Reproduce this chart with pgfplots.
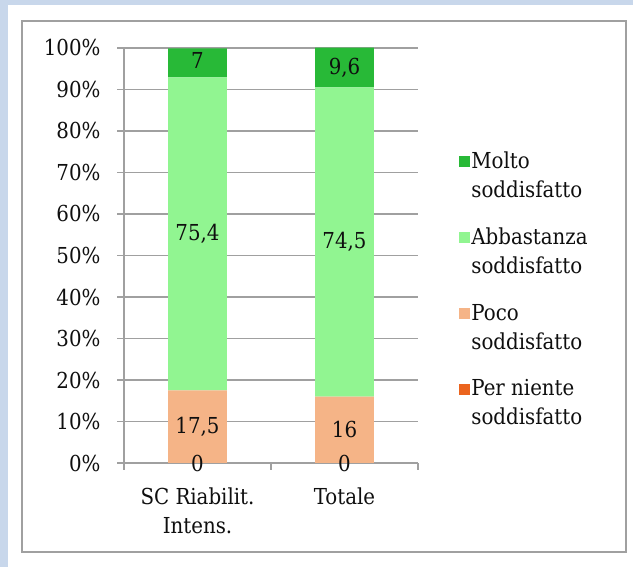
\documentclass[border=0pt]{standalone}
\usepackage{pgfplots}
\pgfplotsset{compat=1.18}
\usepackage{fontspec}
\setmainfont{DejaVu Serif Condensed}
\definecolor{molto}{RGB}{40,185,55}
\definecolor{abba}{RGB}{145,245,145}
\definecolor{poco}{RGB}{245,180,135}
\definecolor{perniente}{RGB}{235,100,30}
\definecolor{gridc}{RGB}{160,160,160}
\definecolor{bgblue}{RGB}{200,215,235}
\definecolor{txt}{RGB}{15,15,15}
\newcommand\fs{\fontsize{22bp}{29bp}\selectfont}
\begin{document}
\begin{tikzpicture}[x=1bp,y=1bp]
\useasboundingbox (0,0) rectangle (633,567);
\fill[bgblue] (0,0) rectangle (633,567);
\fill[white] (8,0) rectangle (633,562);
\draw[gridc, line width=1.5bp] (22,15) rectangle (626,546);
\begin{axis}[
  at={(124bp,104bp)}, anchor=south west, scale only axis,
  width=294bp, height=415bp,
  ybar stacked, bar width=0.4,
  xmin=-0.5, xmax=1.5, ymin=0, ymax=100,
  axis x line=bottom, axis y line=left,
  axis line style={-, draw=gridc, line width=1.2bp},
  tick align=outside, major tick length=7bp,
  tick style={draw=gridc, line width=1.2bp},
  xtick={-0.5,0.5,1.5}, xticklabels={},
  extra x ticks={0,1},
  extra x tick labels={{SC Riabilit.\\Intens.},{Totale}},
  extra x tick style={major tick length=0pt, tick style={draw=none}},
  x tick label style={align=center, font=\fs, text=txt, yshift=-21bp},
  ytick={0,10,...,100},
  yticklabels={0\%,10\%,20\%,30\%,40\%,50\%,60\%,70\%,80\%,90\%,100\%},
  y tick label style={font=\fs, text=txt, xshift=-13bp},
  ymajorgrids, grid style={draw=gridc, line width=1.2bp},
  legend style={at={(1.13,0.758)}, anchor=north west, draw=none, fill=none,
    font=\fs, text=txt, row sep=27bp, nodes={align=left, inner sep=1bp},
    /tikz/every even column/.append style={column sep=9bp}},
  legend cell align=left,
  reverse legend,
  legend image code/.code={\fill[#1] (0bp,8bp) rectangle (11bp,19bp);},
]
\addplot[fill=perniente, draw=none] coordinates {(0,0) (1,0)};
\addlegendentry{Per niente\\soddisfatto}
\addplot[fill=poco, draw=none] coordinates {(0,17.5) (1,16)};
\addlegendentry{Poco\\soddisfatto}
\addplot[fill=abba, draw=none] coordinates {(0,75.4) (1,74.5)};
\addlegendentry{Abbastanza\\soddisfatto}
\addplot[fill=molto, draw=none] coordinates {(0,7) (1,9.6)};
\addlegendentry{Molto\\soddisfatto}
\end{axis}
\begin{axis}[
  at={(124bp,104bp)}, anchor=south west, scale only axis,
  width=294bp, height=415bp,
  xmin=-0.5, xmax=1.5, ymin=0, ymax=100, hide axis,
]
\addplot[draw=none, mark=none, nodes near coords, point meta=explicit symbolic,
  every node near coord/.style={anchor=center, font=\fs, text=txt}]
  coordinates {(0,0) [0] (0,8.75) [17{,}5] (0,55.2) [75{,}4] (0,97) [7]
               (1,0) [0] (1,8) [16] (1,53.25) [74{,}5] (1,95.3) [9{,}6]};
\end{axis}
\end{tikzpicture}
\end{document}
